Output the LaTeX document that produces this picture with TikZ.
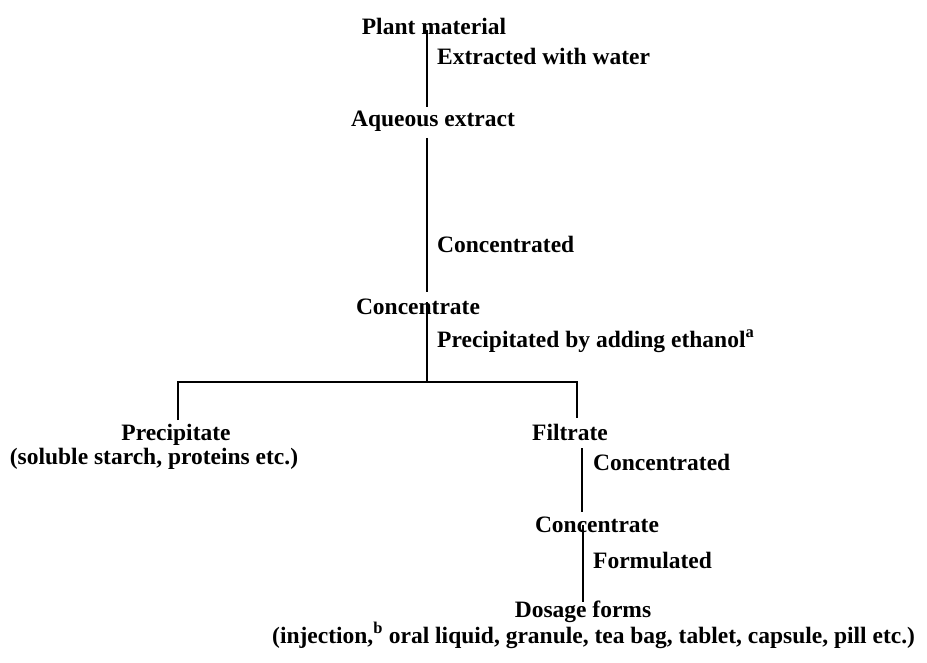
\documentclass[tikz,border=0pt]{standalone}
\usepackage{fontspec}
\setmainfont{Liberation Serif}
\begin{document}
\begin{tikzpicture}[x=1pt,y=-1pt,
  txt/.style={inner sep=0pt,font=\fontsize{23.5}{25}\bfseries\selectfont},
  stage/.style={txt,anchor=base},
  op/.style={txt,anchor=base west},
  flow/.style={line width=2pt}]
\useasboundingbox (0,0) rectangle (927,663);

% main stream
\node[stage] (plant) at (434,35) {Plant material};
\node[op] (extr) at (437,65) {Extracted with water};
\node[stage] (aq) at (433,127) {Aqueous extract};
\node[op] (conc1lab) at (437,253) {Concentrated};
\node[stage] (conc1) at (418,315) {Concentrate};
\node[op] (preclab) at (437,347) {Precipitated by adding ethanol\textsuperscript{a}};

% branch points
\coordinate (t1) at (427,30);
\coordinate (b1) at (427,107);
\coordinate (t2) at (427,138);
\coordinate (b2) at (427,292);
\coordinate (t3) at (427,302);
\coordinate (split) at (427,382);
\coordinate (lj) at (178,382);
\coordinate (rj) at (577,382);
\coordinate (lb) at (178,420);
\coordinate (rb) at (577,418);

% left branch
\node[stage] (prec) at (176,440) {Precipitate};
\node[stage] (precnote) at (154,464) {(soluble starch, proteins etc.)};

% right branch
\node[stage] (filt) at (570,440) {Filtrate};
\node[op] (conc2lab) at (593,470) {Concentrated};
\node[stage] (conc2) at (597,532) {Concentrate};
\node[op] (formlab) at (593,568) {Formulated};
\node[stage] (dose) at (583,617) {Dosage forms};
\node[op] (dosenote) at (272,643) {(injection,\textsuperscript{b} oral liquid, granule, tea bag, tablet, capsule, pill etc.)};

\coordinate (t4) at (582,448);
\coordinate (b4) at (582,512);
\coordinate (t5) at (583,525);
\coordinate (b5) at (583,602);

\draw[flow] (t1) -- (b1);
\draw[flow] (t2) -- (b2);
\draw[flow] (t3) -- (split);
\draw[flow] (lb) -- (lj) -- (rj) -- (rb);
\draw[flow] (t4) -- (b4);
\draw[flow] (t5) -- (b5);
\end{tikzpicture}
\end{document}
